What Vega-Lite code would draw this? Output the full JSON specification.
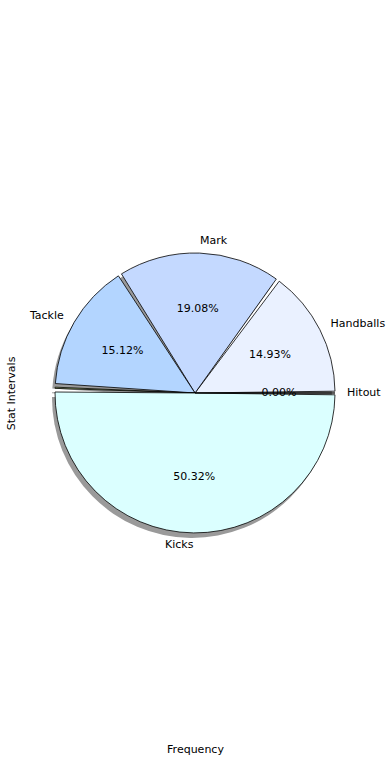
{
  "$schema": "https://vega.github.io/schema/vega-lite/v6.json",
  "width": 330,
  "height": 666,
  "autosize": "none",
  "padding": {"left": 30, "top": 60, "right": 30, "bottom": 54},
  "background": "white",
  "config": {
    "view": {"stroke": null},
    "font": "DejaVu Sans",
    "axis": {"titleFont": "DejaVu Sans", "titleFontSize": 11, "titleFontWeight": "normal", "titleColor": "black"}
  },
  "data": {
    "values": [
      {"label": "Handballs", "value": 0.1493, "idx": 1},
      {"label": "Mark", "value": 0.1908, "idx": 2},
      {"label": "Tackle", "value": 0.1512, "idx": 3},
      {"label": "Other", "value": 0.0055, "idx": 4},
      {"label": "Kicks", "value": 0.5032, "idx": 5},
      {"label": "Hitout", "value": 0, "idx": 6}
    ]
  },
  "layer": [
    {
      "mark": {"type": "point", "opacity": 0},
      "encoding": {
        "x": {"field": "value", "type": "quantitative", "axis": {"title": "Frequency", "labels": false, "ticks": false, "domain": false, "grid": false, "titlePadding": 17}},
        "y": {"field": "value", "type": "quantitative", "axis": {"title": "Stat Intervals", "labels": false, "ticks": false, "domain": false, "grid": false, "titlePadding": 14}}
      }
    },
    {
      "mark": {"type": "arc", "outerRadius": 140, "padAngle": 0.026, "fill": "#9a9a9a", "xOffset": -3, "yOffset": 5},
      "encoding": {
        "theta": {"field": "value", "type": "quantitative", "stack": true, "scale": {"range": [1.5708, -4.7124]}},
        "order": {"field": "idx", "type": "quantitative"}
      }
    },
    {
      "mark": {"type": "arc", "outerRadius": 140, "padAngle": 0.026, "stroke": "black", "strokeWidth": 0.8},
      "encoding": {
        "theta": {"field": "value", "type": "quantitative", "stack": true, "scale": {"range": [1.5708, -4.7124]}},
        "order": {"field": "idx", "type": "quantitative"},
        "color": {
          "field": "label", "type": "nominal", "legend": null,
          "scale": {"domain": ["Handballs", "Mark", "Tackle", "Other", "Kicks", "Hitout"], "range": ["#eaf1ff", "#c4d9ff", "#b3d5ff", "#c9e88f", "#dbffff", "#e0e0e0"]}
        }
      }
    },
    {
      "mark": {"type": "text", "radius": 152, "align": "left", "baseline": "middle", "fontSize": 11, "font": "DejaVu Sans", "color": "black"},
      "encoding": {
        "theta": {"field": "value", "type": "quantitative", "stack": true, "scale": {"range": [1.5708, -4.7124]}},
        "order": {"field": "idx", "type": "quantitative"},
        "text": {"condition": {"test": "indexof(['Handballs','Mark','Hitout'], datum.label) >= 0", "field": "label", "type": "nominal"}, "value": ""}
      }
    },
    {
      "mark": {"type": "text", "radius": 152, "align": "right", "baseline": "middle", "fontSize": 11, "font": "DejaVu Sans", "color": "black"},
      "encoding": {
        "theta": {"field": "value", "type": "quantitative", "stack": true, "scale": {"range": [1.5708, -4.7124]}},
        "order": {"field": "idx", "type": "quantitative"},
        "text": {"condition": {"test": "indexof(['Tackle','Kicks'], datum.label) >= 0", "field": "label", "type": "nominal"}, "value": ""}
      }
    },
    {
      "mark": {"type": "text", "radius": 84, "align": "center", "baseline": "middle", "fontSize": 11, "font": "DejaVu Sans", "color": "black"},
      "encoding": {
        "theta": {"field": "value", "type": "quantitative", "stack": true, "scale": {"range": [1.5708, -4.7124]}},
        "order": {"field": "idx", "type": "quantitative"},
        "text": {"condition": {"test": "datum.label !== 'Other'", "field": "value", "type": "quantitative", "format": ".2%"}, "value": ""}
      }
    }
  ]
}
